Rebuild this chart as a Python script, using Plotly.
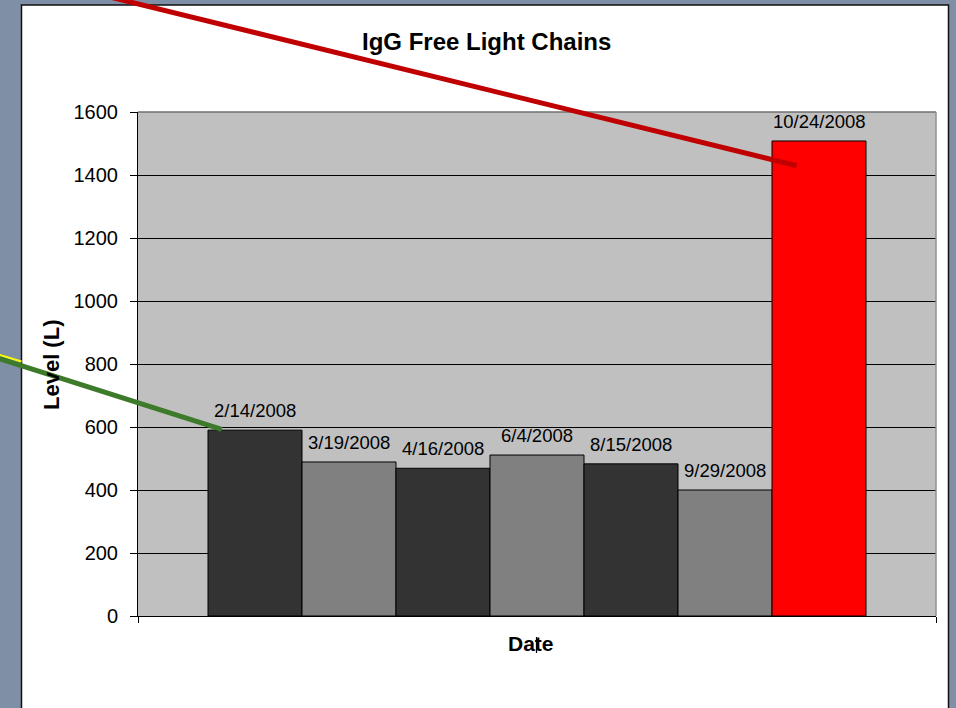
import plotly.graph_objects as go

# Serum IgG free light chain levels by draw date
dates = ["2/14/2008", "3/19/2008", "4/16/2008", "6/4/2008",
         "8/15/2008", "9/29/2008", "10/24/2008"]
levels = [590, 489, 469, 511, 483, 400, 1508]
bar_colors = ["#333333", "#808080", "#333333", "#808080",
              "#333333", "#808080", "#ff0000"]
y_ticks = [0, 200, 400, 600, 800, 1000, 1200, 1400, 1600]

W, H = 956, 708
L, R, T, B = 138, 20, 112, 92
PW, PH = W - L - R, H - T - B
FONT = "Arial, Liberation Sans, sans-serif"
SLATE = "rgb(127,143,166)"


def px(x):
    return (x - L) / PW


def py(y):
    return (H - B - y) / PH


positions = list(range(len(dates)))
pad = 70 / 94  # side gap, in bar widths
x_range = [-0.5 - pad, len(dates) - 0.5 + pad]

fig = go.Figure(go.Bar(
    x=positions, y=levels, width=1,
    marker=dict(color=bar_colors, line=dict(color="black", width=1)),
    hoverinfo="skip", showlegend=False,
))

shapes = [
    # slate surround
    dict(type="rect", xref="paper", yref="paper", x0=px(-10), x1=px(21.5),
         y0=py(-10), y1=py(720), fillcolor=SLATE, line_width=0, layer="below"),
    dict(type="rect", xref="paper", yref="paper", x0=px(-10), x1=px(966),
         y0=py(-10), y1=py(5), fillcolor=SLATE, line_width=0, layer="below"),
    dict(type="rect", xref="paper", yref="paper", x0=px(948.5), x1=px(966),
         y0=py(-10), y1=py(720), fillcolor=SLATE, line_width=0, layer="below"),
    # chart frame
    dict(type="rect", xref="paper", yref="paper", x0=px(21.5), x1=px(948.5),
         y0=py(5), y1=py(730), line=dict(color="#111111", width=1.5),
         fillcolor="rgba(0,0,0,0)", layer="above"),
    # plot area border (top / right)
    dict(type="line", xref="paper", yref="paper", x0=0, x1=1, y0=1, y1=1,
         line=dict(color="#707070", width=1.5), layer="above"),
    dict(type="line", xref="paper", yref="paper", x0=1, x1=1, y0=0, y1=1,
         line=dict(color="#909090", width=1.5), layer="above"),
    # pointer lines
    dict(type="line", xref="paper", yref="paper", x0=px(-5), y0=py(353.5),
         x1=px(21.5), y1=py(361.5), line=dict(color="#ffff00", width=2),
         layer="above"),
    dict(type="line", xref="paper", yref="paper", x0=px(-5), y0=py(357.4),
         x1=px(221.7), y1=py(429.3), line=dict(color="#3d7a2a", width=5),
         layer="above"),
    dict(type="line", xref="paper", yref="paper", x0=px(100), y0=py(-5.4),
         x1=px(796.7), y1=py(165.7), line=dict(color="#c00000", width=5),
         layer="above"),
    # text cursor mark
    dict(type="line", xref="paper", yref="paper", x0=px(536.5), x1=px(536.5),
         y0=py(637), y1=py(653), line=dict(color="black", width=1.2),
         layer="above"),
]

annotations = [
    dict(text="<b>IgG Free Light Chains</b>", xref="paper", yref="paper",
         x=px(486), y=py(41), xanchor="center", yanchor="middle",
         showarrow=False, font=dict(family=FONT, size=24, color="black")),
    dict(text="<b>Date</b>", xref="paper", yref="paper",
         x=px(530.5), y=py(643.5), xanchor="center", yanchor="middle",
         showarrow=False, font=dict(family=FONT, size=21, color="black")),
    dict(text="<b>Level (L)</b>", xref="paper", yref="paper",
         x=px(51), y=py(365), xanchor="center", yanchor="middle",
         textangle=-90, showarrow=False,
         font=dict(family=FONT, size=22, color="black")),
]
for xi, d, v in zip(positions, dates, levels):
    annotations.append(dict(
        text=d, x=xi, y=v, xref="x", yref="y", xanchor="center",
        yanchor="bottom", yshift=7, showarrow=False,
        font=dict(family=FONT, size=18.5, color="black")))

fig.update_layout(
    width=W, height=H,
    margin=dict(l=L, r=R, t=T, b=B, pad=0),
    paper_bgcolor="white",
    plot_bgcolor="#c0c0c0",
    font=dict(family=FONT, color="black"),
    shapes=shapes,
    annotations=annotations,
    xaxis=dict(
        range=x_range, showgrid=False, zeroline=False,
        showline=True, linecolor="black", linewidth=1,
        ticks="outside", ticklen=6, tickcolor="black", tickwidth=1,
        tickvals=x_range, showticklabels=False, fixedrange=True,
    ),
    yaxis=dict(
        range=[0, 1600], tickvals=y_ticks, showgrid=True,
        gridcolor="black", gridwidth=1, zeroline=False,
        showline=True, linecolor="black", linewidth=1,
        ticks="outside", ticklen=7, tickcolor="black", tickwidth=1,
        ticklabelstandoff=8,
        tickfont=dict(family=FONT, size=20, color="black"),
    ),
)

fig.write_html("out.html")
